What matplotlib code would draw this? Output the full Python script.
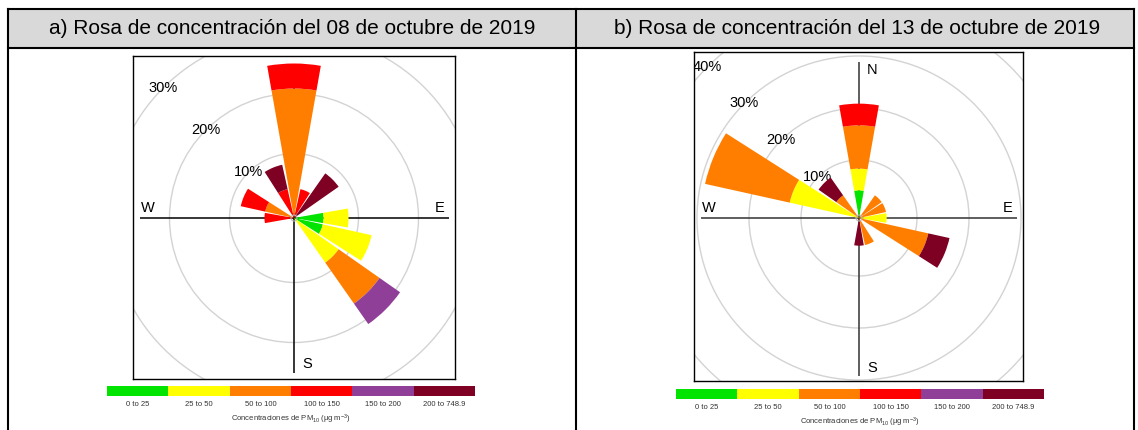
import numpy as np
import matplotlib
matplotlib.use("Agg")
import matplotlib.pyplot as plt
from matplotlib.patches import Wedge, Circle, Rectangle

plt.rcParams['font.family'] = ['Liberation Sans', 'DejaVu Sans']
plt.rcParams['mathtext.fontset'] = 'custom'
plt.rcParams['mathtext.rm'] = 'Liberation Sans'
plt.rcParams['mathtext.it'] = 'Liberation Sans:italic'

# ============================================
# DATOS
# ============================================

# direcciones (grados desde el norte, sentido horario)
direcciones = [0, 22.5, 45, 67.5, 90, 112.5, 135, 157.5,
               180, 202.5, 225, 247.5, 270, 292.5, 315, 337.5]

rangos = ["0 to 25", "25 to 50", "50 to 100",
          "100 to 150", "150 to 200", "200 to 748.9"]

colores = ["#00E400", "#FFFF00", "#FF7E00",
           "#FF0000", "#8F3F97", "#7E0023"]

titulos = ["a) Rosa de concentración del 08 de octubre de 2019",
           "b) Rosa de concentración del 13 de octubre de 2019"]

# frecuencia [%] por rango de concentración, 08 de octubre
#            N      NNE   NE    ENE  E     ESE   SE    SSE  S  SSW SW WSW W     WNW   NW  NNW
oct08_0_25 = [0,    0,    0,    0,   4.17, 4.17, 0,    0,   0, 0,  0, 0,  0,    0,    0,  0]
oct08_25_50 = [0,   0,    0,    0,   4.17, 8.33, 8.33, 0,   0, 0,  0, 0,  0,    0,    0,  0]
oct08_50_100 = [20.83, 0, 0,    0,   0,    0,    8.33, 0,   0, 0,  0, 0,  0,    4.17, 0,  0]
oct08_100_150 = [4.17, 4.17, 0, 0,   0,    0,    0,    0,   0, 0,  0, 0,  4.17, 4.17, 0,  4.17]
oct08_150_200 = [0, 0,    0,    0,   0,    0,    4.17, 0,   0, 0,  0, 0,  0,    0,    0,  0]
oct08_200_749 = [0, 0,    8.33, 0,   0,    0,    0,    0,   0, 0,  0, 0,  0,    0,    0,  4.17]

# frecuencia [%] por rango de concentración, 13 de octubre
oct13_0_25 = [4.17, 0,    0,    0,    0,    0,    0, 0,    0,    0, 0, 0, 0, 0,     0,    0]
oct13_25_50 = [4.17, 0,   0,    0,    4.17, 0,    0, 0,    0,    0, 0, 0, 0, 12.5,  0,    0]
oct13_50_100 = [8.33, 0,  4.17, 4.17, 0,    12.5, 0, 4.17, 0,    0, 0, 0, 0, 16.67, 4.17, 0]
oct13_100_150 = [4.17, 0, 0,    0,    0,    0,    0, 0,    0,    0, 0, 0, 0, 0,     0,    0]
oct13_150_200 = [0, 0,    0,    0,    0,    0,    0, 0,    0,    0, 0, 0, 0, 0,     0,    0]
oct13_200_749 = [0, 0,    0,    0,    0,    4.17, 0, 0,    4.17, 0, 0, 0, 0, 0,     4.17, 0]

datos_08 = [oct08_0_25, oct08_25_50, oct08_50_100,
            oct08_100_150, oct08_150_200, oct08_200_749]
datos_13 = [oct13_0_25, oct13_25_50, oct13_50_100,
            oct13_100_150, oct13_150_200, oct13_200_749]

# ============================================
# FIGURA
# ============================================

W, H = 1138, 430
fig = plt.figure(figsize=(W / 100, H / 100), dpi=100)


def caja(x0, y0, x1, y1):
    # pixeles (origen arriba a la izquierda) -> fracción de figura
    return [x0 / W, 1 - y1 / H, (x1 - x0) / W, (y1 - y0) / H]


# tabla de fondo
tabla = fig.add_axes([0, 0, 1, 1])
tabla.set_xlim(0, W)
tabla.set_ylim(H, 0)
tabla.axis("off")

tabla.add_patch(Rectangle((8, 9), 1126, 39, facecolor="#D9D9D9",
                          edgecolor="none"))
for xs, ys in [([8, 1134], [9, 9]), ([8, 1134], [48, 48]),
               ([8, 8], [9, H]), ([576, 576], [9, H]),
               ([1134, 1134], [9, H])]:
    tabla.plot(xs, ys, color="black", lw=1.5, solid_capstyle="projecting")

tabla.text(292, 29, titulos[0], ha="center", va="center", fontsize=15)
tabla.text(857, 29, titulos[1], ha="center", va="center", fontsize=15)

# ============================================
# ROSA DE CONCENTRACIÓN
# ============================================


def rosa(caja_px, centro_px, escala, offset_px, circulos, datos, color_ejes):

    x0, y0, x1, y1 = caja_px
    cx, cy = centro_px
    ax = fig.add_axes(caja(x0, y0, x1, y1))
    ax.set_xlim((x0 - cx) / escala, (x1 - cx) / escala)
    ax.set_ylim((cy - y1) / escala, (cy - y0) / escala)
    ax.set_xticks([])
    ax.set_yticks([])
    for s in ax.spines.values():
        s.set_linewidth(1.0)
        s.set_color("black")

    off = offset_px / escala
    px = 1 / escala

    # círculos de referencia
    for p in circulos:
        ax.add_patch(Circle((0, 0), off + p, fill=False,
                            edgecolor="#D3D3D3", lw=1.0, zorder=1))
        ang = np.deg2rad(135)
        ax.text((off + p) * np.cos(ang), (off + p) * np.sin(ang),
                f"{p}%", ha="center", va="center", fontsize=10.5,
                zorder=2, clip_on=True)

    total = np.sum(datos, axis=0)
    R = off + total.max()

    # ejes N-S / W-E
    ax.plot([-R, R], [0, 0], color=color_ejes, lw=1.1, zorder=2,
            solid_capstyle="butt")
    ax.plot([0, 0], [-R, R - 2 * px], color=color_ejes, lw=1.1, zorder=2,
            solid_capstyle="butt")
    ax.text(8 * px, R - 3 * px, "N", ha="left", va="top", fontsize=10.5, zorder=2)
    ax.text(8 * px, -R + 1 * px, "S", ha="left", va="bottom", fontsize=10.5, zorder=2)
    ax.text(-R + 1 * px, 3 * px, "W", ha="left", va="bottom", fontsize=10.5, zorder=2)
    ax.text(R - 4 * px, 3 * px, "E", ha="right", va="bottom", fontsize=10.5, zorder=2)

    # cuñas apiladas
    acumulado = np.zeros(len(direcciones))
    for i, serie in enumerate(datos):
        for j, d in enumerate(direcciones):
            v = serie[j]
            if v <= 0:
                continue
            r_in = 0 if acumulado[j] == 0 else off + acumulado[j]
            r_out = off + acumulado[j] + v
            theta = 90 - d
            ax.add_patch(Wedge((0, 0), r_out, theta - 10, theta + 10,
                               width=r_out - r_in, facecolor=colores[i],
                               edgecolor="none", zorder=3))
        acumulado = acumulado + np.array(serie)

    ax.add_patch(Circle((0, 0), 3 * px, fill=False, edgecolor="#BBBBBB",
                        lw=0.8, zorder=4))
    return ax


rosa((133, 56, 455, 379), (294, 218), 6.0, 4.5, [10, 20, 30], datos_08, "black")
rosa((694, 52, 1023, 381), (859, 218), 5.2, 6.0, [10, 20, 30, 40], datos_13, "#333333")

# ============================================
# LEYENDA DE COLORES
# ============================================


def leyenda(caja_px, y_titulo):

    x0, y0, x1, y1 = caja_px
    ax = fig.add_axes(caja(x0, y0, x1, y1))
    pos = np.arange(len(rangos))
    ax.bar(pos, np.ones(len(rangos)), width=1.0, color=colores)
    ax.set_xlim(-0.5, len(rangos) - 0.5)
    ax.set_ylim(0, 1)
    ax.set_yticks([])
    ax.set_xticks(pos)
    ax.set_xticklabels(rangos, fontsize=5.5, color="#333333")
    ax.tick_params(axis="x", length=0, pad=3.5)
    for s in ax.spines.values():
        s.set_visible(False)
    fig.text((x0 + x1) / 2 / W, 1 - y_titulo / H,
             "Concentraciones de PM$_{10}$ (µg m$^{-3}$)",
             ha="center", va="center", fontsize=5.5, color="#333333")


leyenda((107, 386, 475, 396), 419)
leyenda((676, 389, 1044, 399), 422)

plt.savefig("out.png", dpi=100)
